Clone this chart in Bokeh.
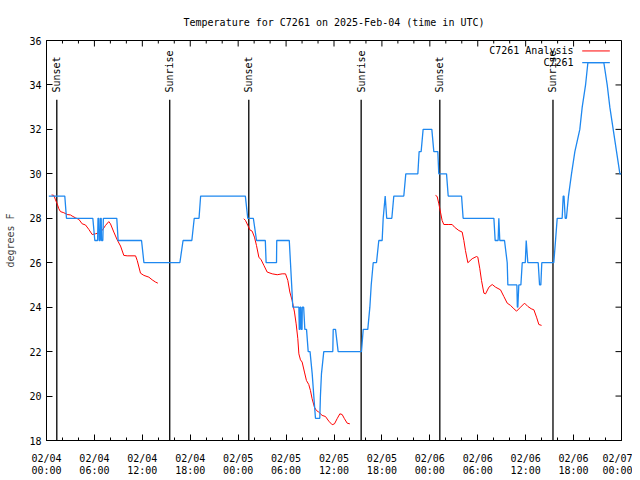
import math
from bokeh.plotting import figure
from bokeh.models import FixedTicker, Range1d, Label
from bokeh.embed import file_html
from bokeh.resources import INLINE
from bokeh.core.properties import value

# ---------------- data ----------------
title_text = "Temperature for C7261 on 2025-Feb-04 (time in UTC)"
y_label = "degrees F"

x_ticks = [0, 6, 12, 18, 24, 30, 36, 42, 48, 54, 60, 66, 72]
x_tick_labels = ["02/04\n00:00", "02/04\n06:00", "02/04\n12:00", "02/04\n18:00",
                 "02/05\n00:00", "02/05\n06:00", "02/05\n12:00", "02/05\n18:00",
                 "02/06\n00:00", "02/06\n06:00", "02/06\n12:00", "02/06\n18:00",
                 "02/07\n00:00"]
x_minor = list(range(0, 73, 2))
y_ticks = [18, 20, 22, 24, 26, 28, 30, 32, 34, 36]

# observed station temperature (C7261), hours since 02/04 00:00 UTC
obs_hours = [0.29, 2.29, 2.5, 5.8, 6.05, 6.4, 6.45, 6.55, 6.6, 6.72, 6.76, 6.85, 6.89, 7.05, 7.12,
             8.8, 8.97, 11.9, 12.2, 16.7, 17.1, 18.2, 18.5, 19.1, 19.3, 24.9, 25.2, 25.9, 26.3,
             27.4, 27.5, 28.8, 28.83, 30.4, 30.55, 30.7, 30.84, 31.6, 31.65, 31.72, 31.75, 31.85,
             31.89, 32.0, 32.03, 32.2, 32.35, 32.56, 32.77, 33.0, 33.27, 33.47, 33.68, 34.22, 34.3,
             34.43, 34.72, 35.85, 35.9, 36.19, 36.52, 39.44, 39.66, 40.23, 40.49, 40.66, 40.91,
             41.32, 41.61, 42.03, 42.16, 42.41, 42.6, 43.24, 43.49, 44.74, 44.99, 46.5, 46.66,
             46.91, 47.16, 48.25, 48.5, 49.0, 49.12, 50.09, 50.3, 51.97, 52.17, 56.02, 56.18,
             56.55, 56.64, 56.76, 57.35, 57.69, 57.77, 58.9, 58.96, 59.02, 59.14, 59.4, 59.57,
             59.95, 60.07, 60.27, 61.57, 61.74, 61.9, 62.02, 63.52, 63.74, 63.95, 64.57, 64.7,
             64.8, 64.95, 65.1, 65.36, 65.74, 66.16, 66.78, 67.08, 67.5, 67.79, 69.79, 70.21,
             70.54, 70.96, 71.38, 71.8, 72.0]
obs_temp = [29, 29, 28, 28, 27, 27, 28, 28, 27, 27, 28, 28, 27, 27, 28,
            28, 27, 27, 26, 26, 27, 27, 28, 28, 29, 29, 28, 28, 27,
            27, 26, 26, 27, 27, 26, 25, 24, 24, 23, 23, 24, 24,
            23, 23, 24, 24, 23, 23, 22, 22, 21, 20, 19, 19, 20,
            21, 22, 22, 23, 23, 22, 22, 23, 23, 24, 25, 26,
            26, 27, 27, 28, 29, 28, 28, 29, 29, 30, 30, 31,
            31, 32, 32, 31, 31, 30, 30, 29, 29, 28, 28, 27,
            27, 28, 27, 27, 26, 25, 25, 24, 24, 25, 25, 26,
            26, 27, 26, 26, 25, 25, 26, 26, 27, 28, 28, 29,
            29, 28, 28, 29, 30, 31, 32, 33, 34, 35, 35, 34,
            33, 32, 31, 30, 30]

# analysis temperature (C7261 Analysis), three runs separated by gaps
ana_hours = [0.63, 0.92, 1.13, 1.34, 1.54, 1.75, 2.17, 2.59, 3.0, 3.21, 3.63, 4.05, 4.47, 4.88,
             5.3, 5.72, 6.13, 6.55, 6.97, 7.39, 7.8, 8.01, 8.43, 8.85, 9.27, 9.68, 10.1, 11.15,
             11.36, 11.77, 12.19, 12.82, 13.23, 13.65, 13.94,
             float("nan"),
             24.71, 24.92, 25.21, 25.46, 25.75, 26.04, 26.29, 26.59, 26.88, 27.22, 27.63, 28.26,
             28.89, 29.51, 29.93, 30.22, 30.47, 30.76, 31.05, 31.26, 31.47, 31.6, 31.8, 32.01,
             32.3, 32.55, 32.84, 33.05, 33.26, 33.55, 33.8, 34.09, 34.51, 34.93, 35.35, 35.77,
             36.06, 36.39, 36.73, 37.02, 37.31, 37.65, 37.98,
             float("nan"),
             48.71, 48.92, 49.13, 49.33, 49.54, 49.75, 50.38, 50.8, 51.09, 51.63, 52.05, 52.26,
             52.46, 52.76, 53.3, 53.85, 54.01, 54.26, 54.47, 54.77, 54.98, 55.4, 55.81, 56.23,
             56.85, 57.27, 57.69, 58.1, 58.52, 58.86, 59.36, 59.86, 60.28, 60.69, 61.03, 61.36,
             61.65, 61.99]
ana_temp = [29.05, 29.03, 28.83, 28.65, 28.43, 28.3, 28.25, 28.17, 28.15, 28.1, 28.02, 27.95,
            27.75, 27.7, 27.5, 27.27, 27.3, 27.35, 27.45, 27.68, 27.85, 27.75, 27.38, 27.03,
            26.75, 26.33, 26.31, 26.31, 26.1, 25.53, 25.43, 25.35, 25.23, 25.13, 25.08,
            float("nan"),
            27.98, 27.9, 27.68, 27.48, 27.42, 27.15, 26.78, 26.25, 26.13, 25.88, 25.58, 25.5,
            25.46, 25.5, 25.5, 25.2, 24.68, 24.3, 23.78, 23.25, 22.58, 21.9, 21.63, 21.53,
            21.08, 20.7, 20.52, 20.25, 19.88, 19.5, 19.35, 19.28, 19.13, 19.08, 18.87, 18.71,
            18.75, 18.98, 19.2, 19.17, 18.98, 18.78, 18.75,
            float("nan"),
            29.03, 28.98, 28.65, 28.28, 27.9, 27.72, 27.72, 27.72, 27.6, 27.45, 27.38, 27.0,
            26.55, 26.0, 26.18, 26.28, 26.25, 25.73, 25.2, 24.63, 24.6, 24.9, 25.02, 24.9,
            24.78, 24.48, 24.18, 24.08, 23.93, 23.82, 24.0, 24.18, 24.03, 23.93, 23.88, 23.55,
            23.22, 23.18]

event_hours = [1.29, 15.43, 25.33, 39.4, 49.25, 63.42]
event_labels = ["Sunset", "Sunrise", "Sunset", "Sunrise", "Sunset", "Sunrise"]

series_names = ["C7261 Analysis", "C7261"]

# ---------------- layout / style ----------------
FONT = "DejaVu Sans Mono"
FS = "10px"
RED = "#ff0000"
BLUE = "#1e88f0"
X0, X1, Y0, Y1 = 0, 72, 18, 36
PX_PER_H = 575 / 72.0      # horizontal pixels per hour in the frame
PX_PER_F = 400 / 18.0      # vertical pixels per degree in the frame
MAJOR_TICK_PX, MINOR_TICK_PX = 6, 3
event_line_top = 33.33
event_label_y = 33.66
legend_text_x = 65.99
legend_line_x0, legend_line_x1 = 67.08, 70.54
legend_rows_y = [35.53, 35.0]

p = figure(width=632, height=480, x_range=Range1d(X0, X1), y_range=Range1d(Y0, Y1),
           output_backend="svg", toolbar_location=None,
           min_border_left=46, min_border_right=11, min_border_top=40, min_border_bottom=40)
p.xgrid.visible = False
p.ygrid.visible = False
p.outline_line_color = "black"
p.outline_line_width = 1
p.background_fill_color = "white"
p.border_fill_color = "white"

p.title.text = title_text
p.title.align = "center"
p.title.text_font = FONT
p.title.text_font_size = FS
p.title.text_font_style = "normal"
p.title.text_color = "black"
p.title.standoff = 26

xa = p.xaxis[0]
xa.ticker = FixedTicker(ticks=x_ticks, minor_ticks=x_minor)
xa.major_label_overrides = {t: l for t, l in zip(x_ticks, x_tick_labels)}
ya = p.yaxis[0]
ya.ticker = FixedTicker(ticks=y_ticks, minor_ticks=[])
ya.axis_label = y_label
ya.axis_label_text_font = FONT
ya.axis_label_text_font_size = FS
ya.axis_label_text_font_style = "normal"
ya.axis_label_standoff = 10
for ax in (xa, ya):
    ax.major_tick_in = MAJOR_TICK_PX
    ax.major_tick_out = 0
    ax.minor_tick_in = MINOR_TICK_PX
    ax.minor_tick_out = 0
    ax.major_label_text_font = FONT
    ax.major_label_text_font_size = FS
    ax.major_label_text_color = "black"
    ax.axis_line_color = "black"
    ax.major_tick_line_color = "black"
    ax.minor_tick_line_color = "black"
xa.major_label_standoff = 12
xa.major_label_text_line_height = 1.15
ya.major_label_standoff = 5

# mirrored inward ticks on the top and right edges (gnuplot style)
top_major = [t for t in x_ticks]
top_minor = [t for t in x_minor if t not in x_ticks]
p.segment(x0=top_major, y0=[Y1] * len(top_major), x1=top_major,
          y1=[Y1 - MAJOR_TICK_PX / PX_PER_F] * len(top_major), line_color="black", line_width=1)
p.segment(x0=top_minor, y0=[Y1] * len(top_minor), x1=top_minor,
          y1=[Y1 - MINOR_TICK_PX / PX_PER_F] * len(top_minor), line_color="black", line_width=1)
p.segment(x0=[X1] * len(y_ticks), y0=y_ticks, x1=[X1 - MAJOR_TICK_PX / PX_PER_H] * len(y_ticks),
          y1=y_ticks, line_color="black", line_width=1)

# sunrise / sunset markers
p.segment(x0=event_hours, y0=[Y0] * len(event_hours), x1=event_hours,
          y1=[event_line_top] * len(event_hours), line_color="black", line_width=1.3)
p.text(x=event_hours, y=[event_label_y] * len(event_hours), text=event_labels,
       angle=math.pi / 2, text_align="left", text_baseline="middle",
       text_font=value(FONT), text_font_size=value(FS), text_color="black")

# data
p.line(ana_hours, ana_temp, line_color=RED, line_width=1)
p.line(obs_hours, obs_temp, line_color=BLUE, line_width=1.3)

# legend (gnuplot style: text right-aligned, sample line on the right)
for name, yy, col in zip(series_names, legend_rows_y, [RED, BLUE]):
    p.add_layout(Label(x=legend_text_x, y=yy, text=name, text_align="right",
                       text_baseline="middle", text_font=FONT, text_font_size=FS,
                       text_color="black"))
    p.line([legend_line_x0, legend_line_x1], [yy, yy], line_color=col,
           line_width=1.3 if col == BLUE else 1)

open("out.html", "w").write(file_html(p, INLINE))
